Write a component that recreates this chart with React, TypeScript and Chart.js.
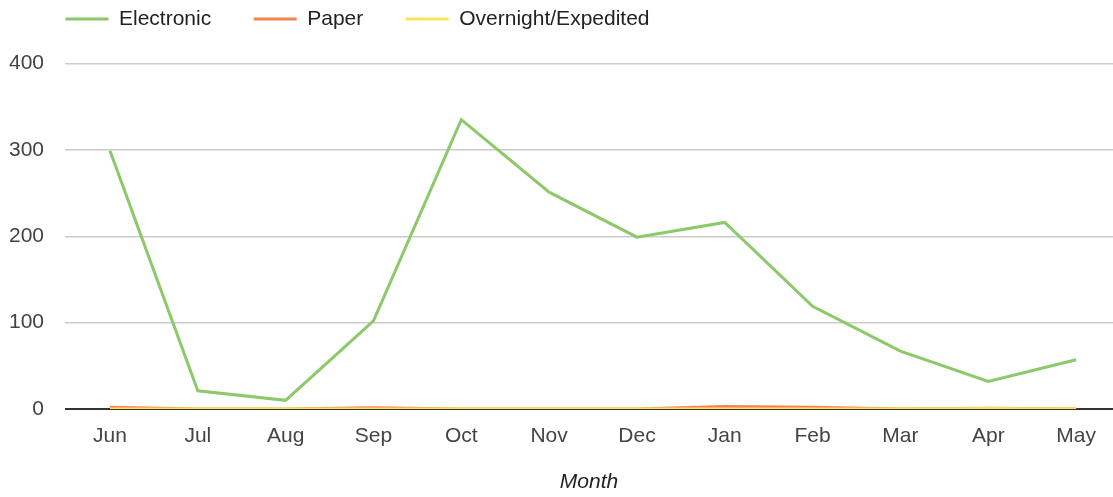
import React, { useEffect, useRef } from "react";
import { Chart, registerables } from "chart.js";

Chart.register(...registerables);

const months = ["Jun", "Jul", "Aug", "Sep", "Oct", "Nov", "Dec", "Jan", "Feb", "Mar", "Apr", "May"];
const electronic = [299, 21, 10, 102, 335, 251, 199, 216, 119, 67, 32, 57];
const paper = [2, 0, 0, 1.5, 0, 0, 0, 3, 2, 0, 1, 0];
const overnight = [0, 0, 0, 0, 0, 0, 0, 0, 0, 0, 0.5, 0];
const seriesNames = ["Electronic", "Paper", "Overnight/Expedited"];
const seriesColors = ["#8cc96a", "#f5834e", "#fde15c"];
const yTicks = [0, 100, 200, 300, 400];
const xTitle = "Month";

const FONT = "'Liberation Sans', Arial, sans-serif";

const legendShift = {
  id: "legendShift",
  afterLayout(chart: any) {
    if (chart.legend) {
      chart.legend.top -= 24;
      chart.legend.bottom -= 24;
      chart.legend.left += 23;
      chart.legend.right += 23;
    }
  },
};

export default function App() {
  const ref = useRef<HTMLCanvasElement | null>(null);

  useEffect(() => {
    if (!ref.current) return;
    const series = [electronic, paper, overnight];
    const orders = [0, 2, 1];
    const chart = new Chart(ref.current, {
      type: "line",
      data: {
        datasets: series.map((vals, k) => ({
          label: seriesNames[k],
          data: vals.map((y, i) => ({ x: i, y })),
          borderColor: seriesColors[k],
          backgroundColor: seriesColors[k],
          borderWidth: 3,
          pointRadius: 0,
          pointHoverRadius: 0,
          tension: 0,
          order: orders[k],
        })),
      },
      options: {
        animation: false,
        responsive: false,
        maintainAspectRatio: false,
        layout: { padding: { left: 0, top: -10, right: 0, bottom: 0 } },
        plugins: {
          tooltip: { enabled: false },
          legend: {
            display: true,
            position: "top",
            align: "start",
            labels: {
              usePointStyle: true,
              pointStyle: "line",
              pointStyleWidth: 43,
              boxHeight: 21,
              padding: 42.5,
              color: "#222",
              font: { family: FONT, size: 21 },
              sort: (a: any, b: any) => a.datasetIndex - b.datasetIndex,
            },
          },
        },
        scales: {
          x: {
            type: "linear",
            min: -0.512,
            max: 11.42,
            afterBuildTicks: (s: any) => {
              s.ticks = months.map((_, i) => ({ value: i }));
            },
            afterFit: (s: any) => {
              s.height = 88;
            },
            grid: { display: false, drawTicks: false },
            border: { display: false },
            ticks: {
              autoSkip: false,
              maxRotation: 0,
              padding: 15,
              color: "#444",
              font: { family: FONT, size: 21 },
              callback: (v: any) => months[v] ?? "",
            },
            title: {
              display: true,
              text: xTitle,
              color: "#222",
              font: { family: FONT, size: 21, style: "italic" },
              padding: { top: 0, bottom: 2 },
            },
          },
          y: {
            type: "linear",
            min: yTicks[0],
            max: yTicks[yTicks.length - 1],
            afterBuildTicks: (s: any) => {
              s.ticks = yTicks.map((v) => ({ value: v }));
            },
            afterFit: (s: any) => {
              s.width = 65;
            },
            border: { display: false },
            grid: {
              drawTicks: false,
              color: (c: any) => (c.tick && c.tick.value === 0 ? "#333" : "#ccc"),
              lineWidth: (c: any) => (c.tick && c.tick.value === 0 ? 2 : 1.5),
            },
            ticks: {
              padding: 21,
              color: "#444",
              font: { family: FONT, size: 21 },
            },
          },
        },
      },
      plugins: [legendShift],
    });
    return () => chart.destroy();
  }, []);

  return (
    <div style={{ position: "fixed", left: 0, top: 0, width: 1113, height: 497, background: "#fff" }}>
      <canvas ref={ref} width={1113} height={497} style={{ display: "block" }} />
    </div>
  );
}
